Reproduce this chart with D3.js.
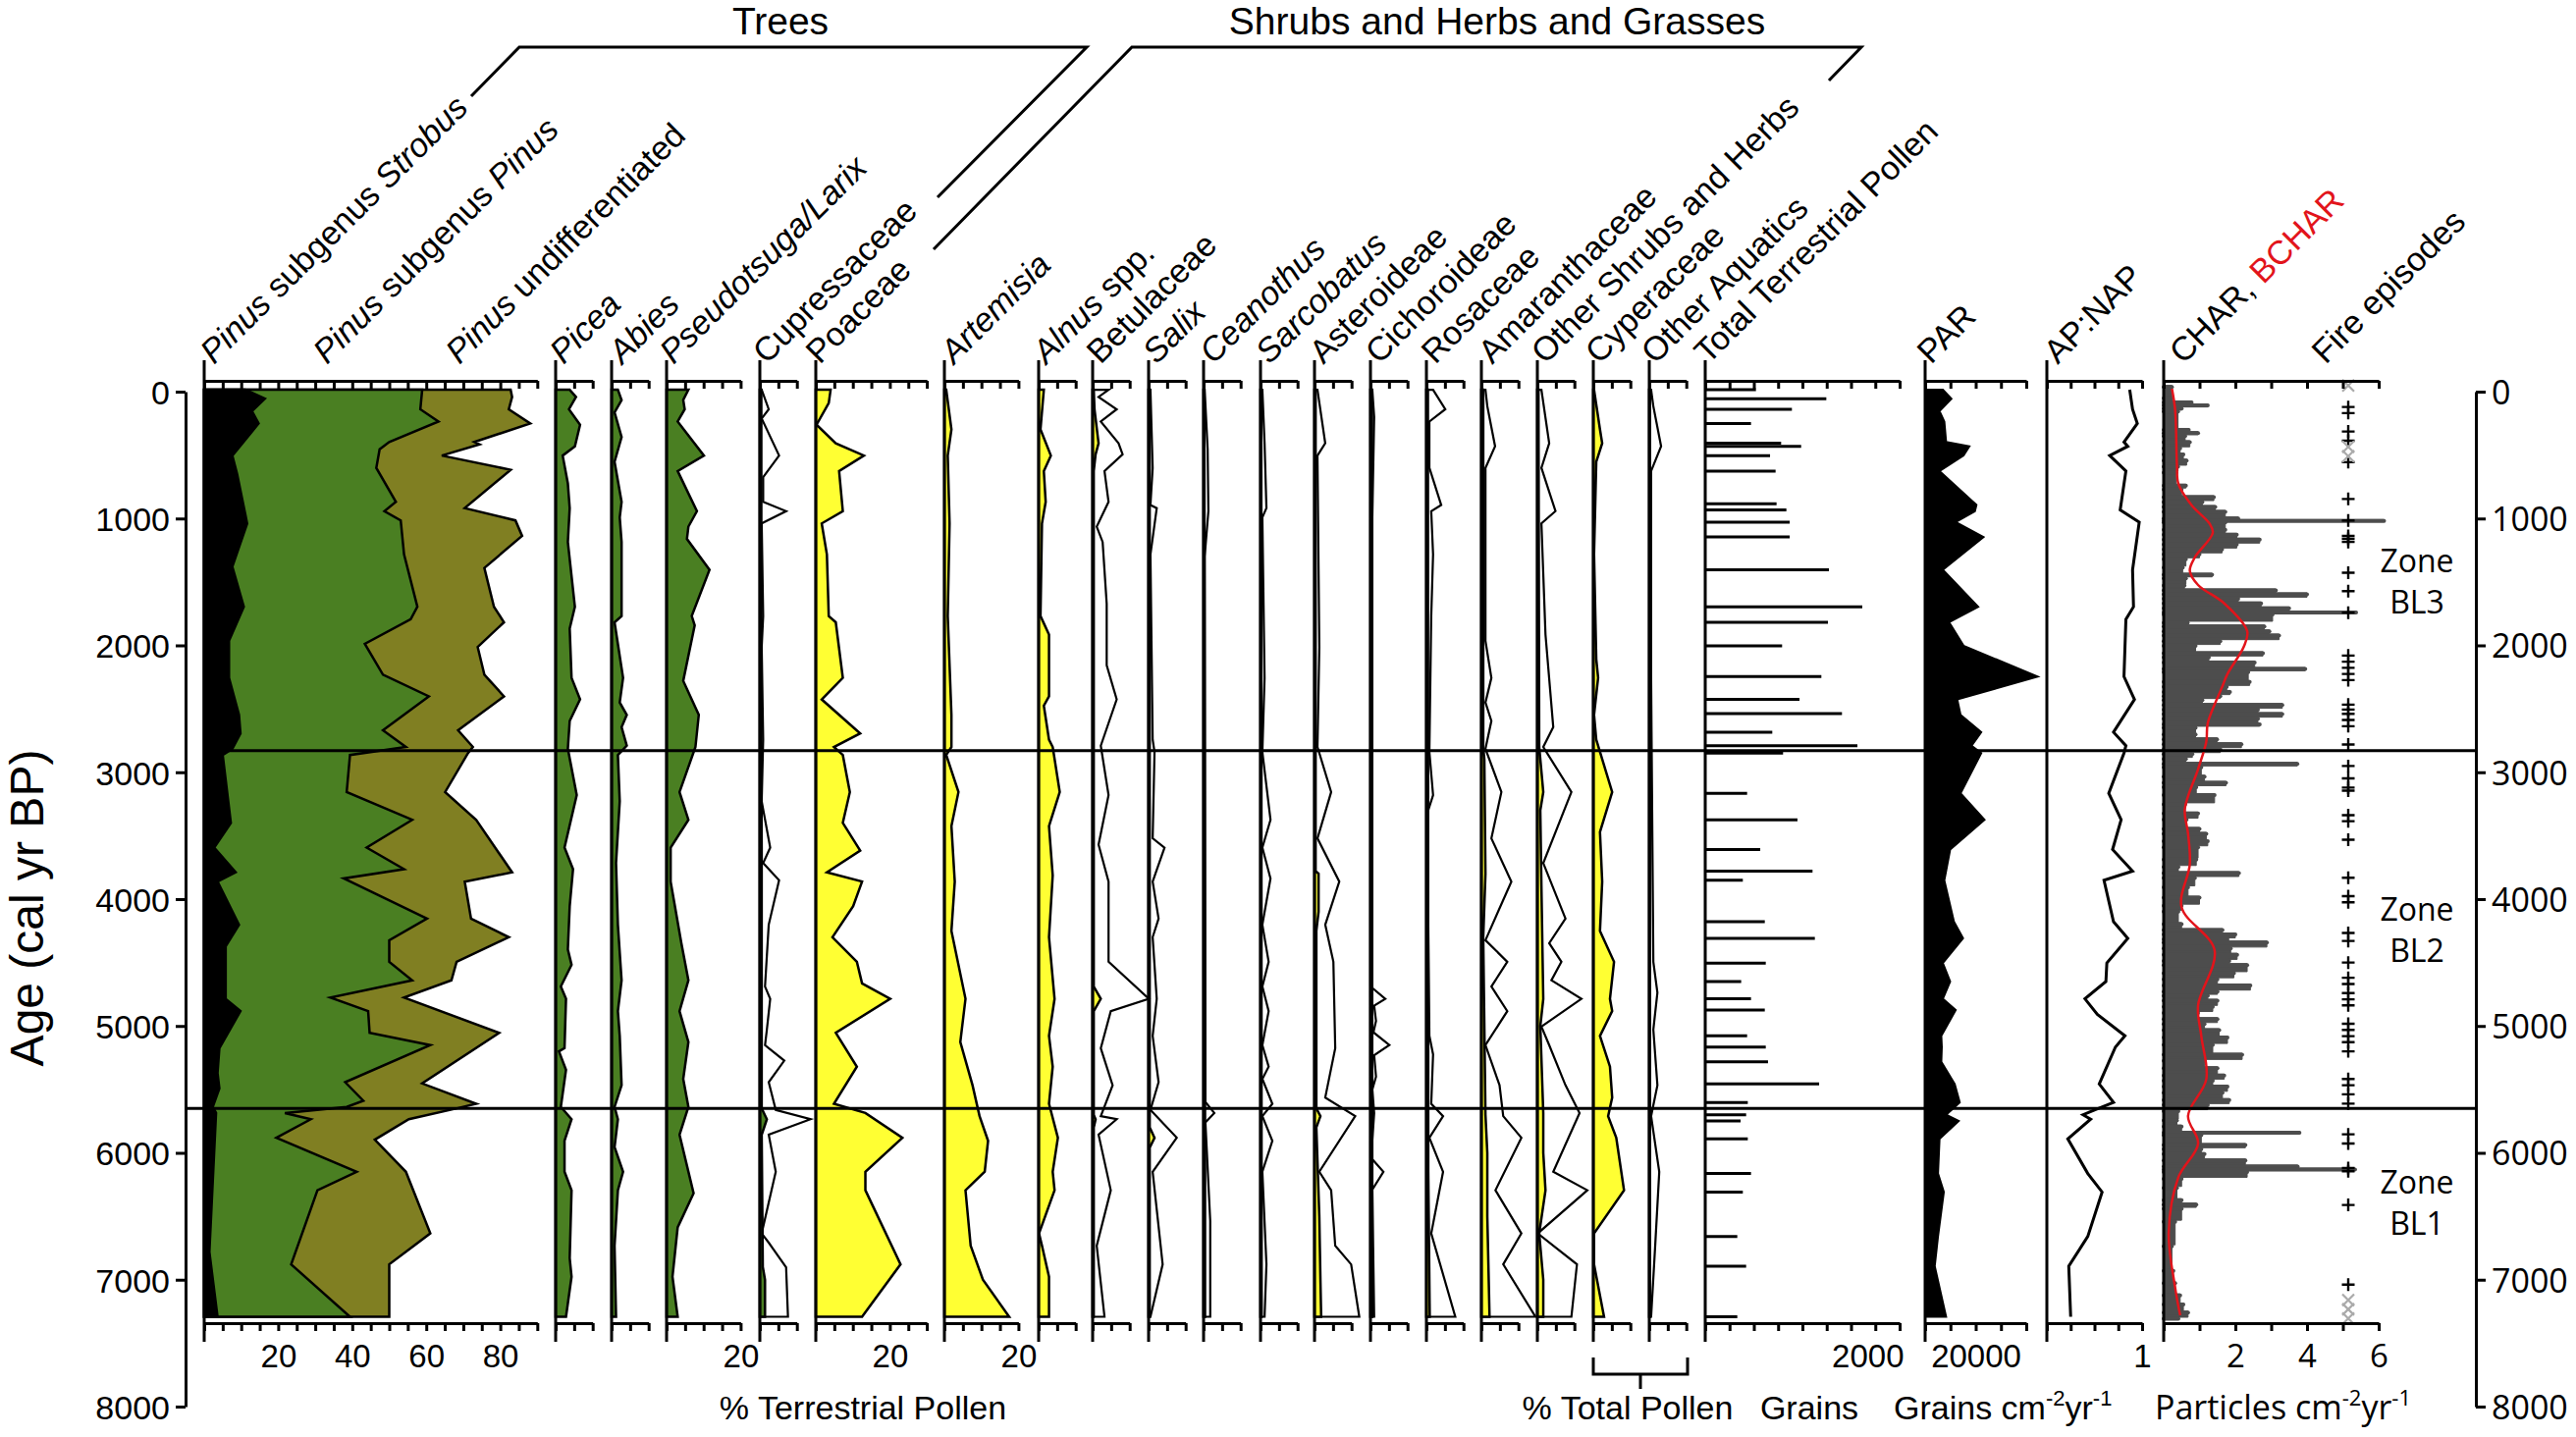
<!DOCTYPE html>
<html lang="en">
<head>
<meta charset="UTF-8">
<title>Pollen and charcoal diagram</title>
<style>
  body { margin: 0; background: #fff; }
  svg text { font-family: "Liberation Sans", Arial, sans-serif; fill: #000; }
  svg text.alt { font-family: "Open Sans", "Noto Sans", sans-serif; }
</style>
</head>
<body>
<svg id="chart" width="2624" height="1464"></svg>
<script src="https://d3js.org/d3.v7.min.js"></script>
<script>
// ---- data: [age cal yr BP, value] ----
const ageTicks = [0, 1000, 2000, 3000, 4000, 5000, 6000, 7000, 8000];
const zoneBounds = [2830, 5650];
const zoneNames = ["BL3", "BL2", "BL1"];
const zoneLabelAges = [1420, 4170, 6320];

// Pinus curves are cumulative edges (Strobus, + subgenus Pinus, + undifferentiated)
const strobus = [[-15,11.1],[56,16.4],[154,12.9],[251,14.7],[504,7.6],[650,8.9],[966,11.1],[1039,11.6],[1380,7.6],[1696,10.7],[1964,6.7],[2256,6.7],[2548,9.4],[2694,9.8],[2815,7.6],[2864,5.0],[3399,7.2],[3594,2.7],[3789,8.5],[3862,3.6],[4202,9.4],[4373,5.8],[4786,5.8],[4883,9.8],[5175,4.1],[5370,3.6],[5492,4.1],[5638,2.3],[5686,3.2],[6781,1.4],[7292,3.6]];
const strobusPinusCum = [[-15,58.9],[139,58.4],[236,63.3],[397,50.0],[455,47.4],[601,46.5],[869,51.8],[942,48.7],[1015,53.1],[1283,54.0],[1696,57.6],[1794,55.8],[1988,43.4],[2231,48.3],[2402,60.7],[2669,48.3],[2801,54.5],[2864,39.4],[3156,38.5],[3375,56.2],[3594,43.9],[3764,54.0],[3837,37.7],[4154,60.2],[4324,50.0],[4494,50.0],[4640,56.2],[4776,34.1],[4883,44.3],[5054,44.7],[5151,61.1],[5443,38.1],[5589,43.0],[5638,38.5],[5686,21.8],[5735,28.8],[5881,19.5],[6149,41.2],[6295,30.6],[6879,23.5],[7292,39.4]];
const pinusTotal = [[-15,82.8],[42,83.2],[139,82.3],[251,88.1],[397,73.0],[416,74.4],[504,64.2],[616,82.8],[918,70.4],[1015,84.1],[1137,85.9],[1390,75.7],[1696,78.3],[1818,81.0],[2013,73.9],[2231,75.7],[2402,81.0],[2669,68.6],[2801,72.6],[2849,71.3],[3156,65.1],[3375,73.5],[3789,83.2],[3862,70.4],[4154,72.1],[4300,82.3],[4494,68.2],[4640,66.8],[4776,54.0],[5054,79.7],[5453,58.9],[5613,73.5],[5647,68.6],[5735,55.3],[5896,46.1],[6149,54.5],[6635,61.1],[6879,50.0],[7292,50.0]];

const picea = [[-15,3.8],[42,5.5],[139,3.6],[261,6.6],[431,5.2],[504,1.9],[723,3.3],[918,3.8],[1185,3.3],[1696,5.2],[1867,3.8],[2256,4.3],[2426,6.6],[2596,3.8],[2815,3.3],[3180,5.7],[3594,2.4],[3764,4.7],[4056,3.8],[4397,3.3],[4518,4.3],[4689,1.4],[4786,2.8],[5175,2.4],[5200,0.9],[5346,2.8],[5638,1.4],[5735,4.3],[5905,2.4],[6149,2.4],[6295,4.3],[6830,3.8],[6976,4.3],[7292,2.8]];
const abies = [[-15,1.7],[66,2.7],[164,0.8],[358,2.7],[553,0.8],[869,2.7],[991,2.2],[1185,2.7],[1769,2.7],[1818,0.8],[2256,3.1],[2450,2.2],[2548,4.1],[2645,2.7],[2791,4.1],[2864,1.7],[3229,2.2],[3716,1.2],[4202,1.7],[4640,2.7],[4883,1.7],[5078,2.2],[5467,2.7],[5638,0.8],[5735,1.7],[5954,0.8],[6149,3.1],[6295,1.7],[6732,0.8],[7292,1.2]];
const pseudotsuga = [[-15,5.9],[66,4.5],[139,4.9],[236,3.0],[504,10.1],[626,3.0],[942,8.2],[1064,5.9],[1161,5.5],[1404,11.6],[1769,6.8],[1842,7.6],[2280,4.5],[2548,8.7],[2801,7.8],[3156,3.5],[3375,5.9],[3594,1.1],[3862,1.1],[4348,4.0],[4640,5.9],[4883,3.5],[5126,5.9],[5418,4.5],[5638,5.9],[5857,3.5],[6319,7.3],[6587,3.0],[6976,1.6],[7292,3.0]];
const cupressaceae = [[-15,0.4],[2800,0.4],[3594,0.5],[5650,0.5],[5735,1.9],[5857,0.5],[6900,0.8],[7000,1.4],[7292,1.4]];
const cupressaceaeExag = [[-15,0.5],[139,2.4],[212,0.5],[504,5.2],[674,0.9],[869,0.9],[942,7.1],[1039,0.5],[1769,0.9],[2013,0.5],[2743,0.9],[3229,0.5],[3594,2.8],[3716,0.9],[3852,5.2],[4202,2.4],[4689,1.4],[4786,2.8],[5029,1.9],[5151,1.4],[5273,6.6],[5443,2.4],[5662,4.3],[5735,13.7],[5857,2.4],[6149,4.3],[6635,0.5],[6708,2.4],[6903,7.1],[7292,7.6]];
const poaceae = [[-15,4.0],[90,3.5],[261,0.2],[407,5.4],[504,13.0],[626,6.3],[942,7.3],[1039,1.6],[1283,3.0],[1769,3.5],[1818,5.4],[2256,7.3],[2426,1.6],[2694,12.0],[2801,4.9],[2864,7.3],[3156,9.2],[3399,7.3],[3618,12.0],[3789,3.0],[3862,12.5],[4056,10.1],[4300,4.5],[4494,11.1],[4664,12.5],[4786,20.1],[5054,5.4],[5321,11.1],[5613,4.9],[5686,13.4],[5881,23.4],[6149,13.4],[6295,13.4],[6879,22.9],[7292,12.5]];
const artemisia = [[-15,0.5],[298,1.9],[504,0.9],[1039,1.4],[1769,0.9],[2548,1.9],[2801,1.9],[2864,0.5],[3156,3.8],[3424,1.9],[3862,2.8],[4251,1.9],[4786,5.7],[5126,4.3],[5467,7.6],[5711,9.5],[5905,11.8],[6149,10.9],[6295,5.7],[6732,7.1],[7000,10.4],[7292,17.5]];
const alnus = [[-15,1.4],[298,0.5],[504,3.3],[626,1.4],[869,1.9],[1039,0.9],[1769,0.5],[1915,2.8],[2402,2.8],[2475,1.4],[2743,2.8],[2801,3.8],[3156,5.7],[3424,2.8],[3813,3.8],[4300,2.8],[4786,4.3],[5078,2.8],[5321,3.8],[5613,2.8],[5881,5.2],[6149,3.8],[6295,4.3],[6635,0.1],[6732,0.9],[6976,2.8],[7292,2.8]];
const betulaceae = [[-15,0.3],[139,0.5],[407,1.6],[494,0.8],[626,0.3],[4689,0.3],[4786,2.2],[4883,0.3],[5700,0.3],[5735,0.8],[5800,0.3],[7292,0.3]];
const betulaceaeExag = [[-15,4.3],[42,1.6],[139,6.5],[236,2.2],[407,7.0],[494,8.1],[626,3.2],[869,4.3],[1064,1.1],[1185,2.7],[1672,3.8],[2158,3.8],[2426,6.5],[2791,2.2],[3180,4.3],[3570,1.6],[3862,4.3],[4494,4.3],[4786,15.2],[4883,4.9],[5175,2.2],[5467,5.4],[5711,2.2],[5735,6.5],[5857,1.6],[6295,4.9],[6732,1.1],[7292,3.2]];
const salix = [[-15,0.3],[5800,0.3],[5881,1.6],[5960,0.3],[7292,0.3]];
const salixExag = [[-15,0.5],[601,1.1],[894,0.5],[918,2.2],[1283,0.5],[2743,1.1],[2840,1.6],[3521,1.1],[3594,4.3],[3862,1.1],[4154,2.7],[4300,1.1],[4786,2.2],[5078,1.1],[5443,2.7],[5662,0.5],[5881,7.6],[6149,1.1],[6879,3.8],[7292,0.5]];
const ceanothus = [[-15,0.2],[5686,0.4],[7292,0.4]];
const ceanothusExag = [[-15,0.3],[455,1.1],[942,1.3],[1300,0.3],[5600,0.5],[5686,2.9],[5760,0.5],[6537,1.8],[7292,1.8]];
const sarcobatus = [[-15,0.2],[7292,0.3]];
const sarcobatusExag = [[-15,0.5],[407,1.1],[918,1.6],[991,0.5],[2256,1.1],[2840,0.5],[3375,2.7],[3594,0.5],[3837,2.7],[4202,0.5],[4494,2.2],[4689,0.5],[4883,2.2],[5151,0.5],[5321,2.2],[5418,0.5],[5613,3.2],[5711,0.5],[5905,3.2],[6149,0.5],[6879,1.6],[7292,1.1]];
const asteroideae = [[-15,0.3],[3780,0.3],[3800,1.1],[4100,1.1],[4250,0.5],[5650,0.5],[5711,1.6],[5800,0.5],[6500,1.3],[7000,1.6],[7292,1.8]];
const asteroideaeExag = [[-15,0.8],[407,2.9],[504,0.8],[2013,1.3],[2801,0.8],[3156,4.5],[3521,0.8],[3862,6.7],[4202,2.9],[4494,5.1],[5175,5.6],[5564,2.9],[5711,11.0],[6149,1.3],[6295,4.5],[6732,5.6],[6879,9.9],[7292,12.1]];
const cichoroideae = [[-15,0.4],[7292,0.5]];
const cichoroideaeExag = [[-15,0.5],[200,1.0],[1000,0.5],[4700,0.5],[4786,4.0],[4840,1.0],[4960,1.5],[5050,0.8],[5151,5.1],[5230,1.0],[5400,1.5],[5500,0.5],[5686,1.0],[5900,0.5],[6050,0.5],[6149,3.5],[6290,0.5],[7292,1.0]];
const rosaceae = [[-15,0.4],[6149,0.5],[7292,0.9]];
const rosaceaeExag = [[-15,1.8],[139,5.1],[236,0.8],[601,0.8],[894,4.0],[942,1.3],[1283,1.8],[1769,1.3],[2840,0.8],[3180,1.8],[3326,0.2],[5078,0.8],[5224,1.8],[5613,1.3],[5711,4.5],[5881,0.8],[6149,4.5],[6635,1.3],[7292,7.8]];
const amaranthaceae = [[-15,0.5],[2800,0.5],[2900,0.8],[3800,1.1],[4300,0.5],[5700,1.1],[6000,1.6],[6500,1.6],[7292,2.2]];
const amaranthaceaeExag = [[-15,1.1],[115,1.6],[431,3.7],[601,1.1],[1039,1.1],[1964,1.1],[2256,2.7],[2450,1.1],[2596,2.7],[2815,1.1],[3156,5.4],[3521,2.7],[3862,8.1],[4324,1.1],[4494,7.0],[4689,2.7],[4883,7.0],[5151,1.1],[5467,4.9],[5711,5.9],[5881,10.8],[6295,3.8],[6635,10.8],[6879,5.9],[7292,14.6]];
const otherShrubs = [[-15,0.3],[2800,0.5],[3156,1.6],[3300,0.8],[3900,1.1],[4786,1.6],[5000,0.8],[5686,1.6],[6000,1.6],[6295,2.2],[6635,0.5],[7000,1.6],[7292,1.6]];
const otherShrubsExag = [[-15,1.1],[407,3.2],[601,1.1],[942,4.9],[1039,1.1],[1915,2.2],[2645,4.3],[2801,1.6],[3156,9.2],[3716,1.6],[4154,7.6],[4348,3.2],[4494,6.5],[4640,3.8],[4786,11.9],[5005,1.1],[5151,3.2],[5467,7.6],[5686,11.4],[6149,4.3],[6295,13.5],[6635,0.1],[6879,10.7],[7292,9.2]];
const cyperaceae = [[-15,0.2],[298,1.8],[407,2.4],[553,0.8],[1283,0.2],[2110,0.8],[2256,1.3],[2548,0.2],[2743,0.8],[3156,5.1],[3472,1.8],[3862,2.4],[4251,1.8],[4494,5.6],[4786,4.5],[4883,5.1],[5078,1.8],[5321,4.5],[5564,5.1],[5711,4.0],[5881,6.2],[6295,8.3],[6635,0.2],[6879,0.2],[7292,2.9]];
const otherAquatics = [[-15,0.2],[7292,0.2]];
const otherAquaticsExag = [[-15,0.5],[115,1.1],[431,3.2],[626,0.5],[2256,0.5],[4494,1.1],[4737,2.2],[5029,1.1],[5467,2.2],[5711,0.5],[6149,2.7],[6732,1.6],[7292,0.5]];

const totalPollen = [[-15,522],[56,1246],[139,892],[251,471],[407,781],[431,987],[504,667],[626,724],[884,734],[932,835],[1029,869],[1146,869],[1404,1273],[1696,1616],[1818,1263],[2003,791],[2246,1195],[2426,970],[2538,1407],[2684,690],[2791,1566],[2849,801],[3166,431],[3375,949],[3609,566],[3779,1104],[3852,387],[4178,613],[4309,1128],[4504,623],[4650,370],[4786,471],[4874,613],[5078,431],[5166,623],[5282,646],[5457,1172],[5603,438],[5700,421],[5749,364],[5890,438],[6163,471],[6309,387],[6659,330],[6893,421],[7292,330]];
const parData = [[-15,7000],[56,10400],[154,5700],[236,7600],[397,8300],[431,17500],[504,15200],[626,5700],[893,20300],[942,19700],[1029,12100],[1146,23100],[1404,7000],[1696,21000],[1818,9500],[2003,15200],[2246,44500],[2426,12700],[2548,14000],[2684,22200],[2791,18400],[2849,22200],[3166,14000],[3375,23500],[3609,9900],[3852,7600],[4178,11400],[4309,15000],[4504,7000],[4650,9900],[4786,7000],[4874,12100],[5078,6400],[5166,6600],[5282,6400],[5457,11700],[5603,13700],[5700,8300],[5749,13300],[5890,5700],[6163,5100],[6309,7400],[6659,5100],[6893,3800],[7292,8300]];
const apNap = [[-15,0.87],[139,0.9],[251,0.95],[397,0.81],[431,0.85],[504,0.66],[626,0.83],[932,0.77],[1029,0.97],[1404,0.9],[1696,0.91],[1794,0.83],[2246,0.81],[2426,0.92],[2684,0.7],[2791,0.83],[2849,0.81],[3166,0.65],[3375,0.78],[3609,0.69],[3779,0.9],[3852,0.6],[4178,0.7],[4309,0.85],[4504,0.63],[4650,0.62],[4786,0.4],[4908,0.53],[5078,0.82],[5166,0.72],[5457,0.55],[5603,0.7],[5662,0.5],[5700,0.38],[5735,0.46],[5890,0.22],[6163,0.43],[6309,0.58],[6659,0.43],[6893,0.23],[7292,0.25]];

const charData = [[-48,0.23],[40,0.23],[73,0.78],[97,1.23],[121,0.5],[145,0.4],[290,0.7],[315,0.96],[339,0.6],[387,0.73],[435,0.46],[484,0.55],[532,0.64],[580,0.4],[627,0.35],[730,0.62],[760,0.5],[820,1.4],[859,1.08],[898,1.44],[936,1.72],[988,2.08],[1008,6.15],[1020,1.72],[1078,1.72],[1117,2.04],[1155,2.68],[1194,2.04],[1233,1.63],[1271,1.0],[1310,0.62],[1375,0.53],[1431,1.35],[1460,0.62],[1516,0.58],[1555,3.13],[1586,4.0],[1620,2.08],[1658,2.72],[1697,3.5],[1730,5.37],[1745,3.04],[1810,0.67],[1839,2.81],[1878,2.95],[1911,3.22],[1955,1.58],[1993,0.89],[2050,2.77],[2084,1.26],[2123,2.54],[2174,3.95],[2200,2.36],[2277,2.4],[2316,1.76],[2355,1.85],[2388,1.58],[2419,1.08],[2458,3.31],[2496,2.63],[2530,3.31],[2566,2.63],[2612,2.68],[2638,0.89],[2690,0.89],[2729,1.49],[2767,2.17],[2806,1.58],[2845,0.8],[2883,0.62],[2922,3.73],[2950,1.05],[3024,1.14],[3072,1.74],[3106,0.91],[3169,1.42],[3241,0.6],[3314,0.96],[3362,0.64],[3435,1.0],[3474,1.19],[3532,1.23],[3580,0.96],[3677,0.91],[3735,0.41],[3783,2.1],[3822,0.87],[3895,0.68],[3977,1.0],[4040,0.5],[4088,0.41],[4185,0.5],[4233,1.64],[4267,2.0],[4306,1.78],[4330,2.88],[4378,1.87],[4427,2.05],[4475,1.83],[4509,2.33],[4572,1.96],[4620,1.5],[4669,2.42],[4717,1.5],[4751,1.23],[4790,1.5],[4838,1.37],[4886,0.96],[4935,1.5],[4973,1.14],[5022,1.55],[5080,1.78],[5138,1.37],[5215,2.19],[5264,1.14],[5322,1.5],[5380,1.69],[5419,1.37],[5467,1.78],[5515,1.64],[5573,1.83],[5612,1.23],[5660,0.41],[5733,0.37],[5781,0.5],[5830,3.79],[5850,1.05],[5927,2.28],[5960,1.05],[5999,1.14],[6048,2.28],[6096,3.74],[6120,5.34],[6140,2.33],[6193,0.5],[6265,0.37],[6362,0.5],[6396,0.91],[6430,0.5],[6531,0.32],[6725,0.23],[6918,0.27],[7015,0.32],[7112,0.46],[7184,0.55],[7247,0.68],[7296,0.41]];
const bcharData = [[-24,0.23],[145,0.32],[580,0.37],[726,0.41],[895,0.78],[1040,1.28],[1113,1.37],[1306,0.87],[1413,0.73],[1524,0.96],[1669,1.69],[1887,2.33],[2008,2.24],[2225,1.78],[2322,1.64],[2612,1.23],[2758,1.19],[2975,0.96],[3290,0.59],[3483,0.68],[3725,0.73],[4064,0.5],[4403,1.42],[4838,0.96],[5080,1.05],[5419,1.19],[5709,0.68],[5927,0.96],[6193,0.41],[6628,0.14],[7063,0.32],[7281,0.46]];
const fireAges = [121,169,314,387,556,846,1016,1137,1161,1185,1427,1572,1742,2080,2129,2177,2225,2274,2467,2506,2540,2588,2637,2782,2951,3048,3121,3145,3338,3386,3532,3832,3977,4025,4267,4330,4500,4620,4669,4741,4790,4838,4983,5031,5080,5128,5200,5418,5467,5539,5612,5854,5927,6120,6145,6411,7039];
const fireRejected = [-48,435,508,7160,7233,7305];

// ---- layout ----
const GREEN = "#4a7f22", OLIVE = "#807f22", YELLOW = "#ffff33", CHARGREY = "#4d4d4d", RED = "#e2141b";
const PX = 3.77;                       // px per percent
const RULER_TOP = 388, RULER_BOT = 1348, LINE_TOP = 367, LINE_BOT = 1367;
const LABEL_Y = 372;

const svg = d3.select("#chart");
const y = d3.scaleLinear().domain([0, 8000]).range([399, 1433]);

const pctPanels = [
  {x0: 208, max: 90, labels: [20, 40, 60, 80], layers: [[pinusTotal, OLIVE], [strobusPinusCum, GREEN], [strobus, "#000"]]},
  {x0: 566, max: 10, layers: [[picea, GREEN]]},
  {x0: 623, max: 10, layers: [[abies, GREEN]]},
  {x0: 679, max: 20, labels: [20], layers: [[pseudotsuga, GREEN]]},
  {x0: 774, max: 10, exag: cupressaceaeExag, layers: [[cupressaceae, GREEN]]},
  {x0: 831, max: 30, labels: [20], layers: [[poaceae, YELLOW]]},
  {x0: 962, max: 20, labels: [20], layers: [[artemisia, YELLOW]]},
  {x0: 1058, max: 10, layers: [[alnus, YELLOW]]},
  {x0: 1113, max: 10, exag: betulaceaeExag, layers: [[betulaceae, YELLOW]]},
  {x0: 1170, max: 10, exag: salixExag, layers: [[salix, YELLOW]]},
  {x0: 1226, max: 10, exag: ceanothusExag, layers: [[ceanothus, YELLOW]]},
  {x0: 1284, max: 10, exag: sarcobatusExag, layers: [[sarcobatus, YELLOW]]},
  {x0: 1339, max: 10, exag: asteroideaeExag, layers: [[asteroideae, YELLOW]]},
  {x0: 1396, max: 10, exag: cichoroideaeExag, layers: [[cichoroideae, YELLOW]]},
  {x0: 1453, max: 10, exag: rosaceaeExag, layers: [[rosaceae, YELLOW]]},
  {x0: 1509, max: 10, exag: amaranthaceaeExag, layers: [[amaranthaceae, YELLOW]]},
  {x0: 1566, max: 10, exag: otherShrubsExag, layers: [[otherShrubs, YELLOW]]},
  {x0: 1623, max: 10, layers: [[cyperaceae, YELLOW]]},
  {x0: 1680, max: 10, exag: otherAquaticsExag, layers: [[otherAquatics, YELLOW]]}
];

const headerLabels = [
  {x: 218, parts: [["Pinus", 1], [" subgenus ", 0], ["Strobus", 1]]},
  {x: 333, parts: [["Pinus", 1], [" subgenus ", 0], ["Pinus", 1]]},
  {x: 468, parts: [["Pinus", 1], [" undifferentiated", 0]]},
  {x: 574, parts: [["Picea", 1]]},
  {x: 634, parts: [["Abies", 1]]},
  {x: 686, parts: [["Pseudotsuga/Larix", 1]]},
  {x: 781, parts: [["Cupressaceae", 0]]},
  {x: 835, parts: [["Poaceae", 0]]},
  {x: 972, parts: [["Artemisia", 1]]},
  {x: 1066, parts: [["Alnus", 1], [" spp.", 0]]},
  {x: 1121, parts: [["Betulaceae", 0]]},
  {x: 1178, parts: [["Salix", 1]]},
  {x: 1236, parts: [["Ceanothus", 1]]},
  {x: 1293, parts: [["Sarcobatus", 1]]},
  {x: 1348, parts: [["Asteroideae", 0]]},
  {x: 1405, parts: [["Cichoroideae", 0]]},
  {x: 1462, parts: [["Rosaceae", 0]]},
  {x: 1520, parts: [["Amaranthaceae", 0]]},
  {x: 1574, parts: [["Other Shrubs and Herbs", 0]]},
  {x: 1629, parts: [["Cyperaceae", 0]]},
  {x: 1686, parts: [["Other Aquatics", 0]]},
  {x: 1740, parts: [["Total Terrestrial Pollen", 0]]},
  {x: 1967, parts: [["PAR", 0]]},
  {x: 2096, parts: [["AP:NAP", 0]]},
  {x: 2224, parts: [["CHAR, ", 0], ["BCHAR", 0, RED]]},
  {x: 2369, parts: [["Fire episodes", 0]]}
];

const gData = svg.append("g");
const gAxes = svg.append("g");

function styleAxis(g, size, cls) {
  g.select(".domain").attr("stroke-width", 3);
  g.selectAll(".tick line").attr("stroke-width", 3);
  g.selectAll(".tick text").attr("font-size", size).attr("font-family", null)
    .attr("class", cls || null).style("fill", "#000");
}

function rulers(x, ticks, labels, fmt, cls) {
  const top = gAxes.append("g").attr("transform", `translate(0,${RULER_TOP})`)
    .call(d3.axisBottom(x).tickValues(ticks).tickSize(8).tickSizeOuter(0).tickFormat(""));
  styleAxis(top, 33);
  const bot = gAxes.append("g").attr("transform", `translate(0,${RULER_BOT})`)
    .call(d3.axisBottom(x).tickValues(ticks).tickSize(8).tickSizeOuter(0).tickPadding(14)
      .tickFormat(d => labels.includes(d) ? (fmt ? fmt(d) : d) : ""));
  styleAxis(bot, 33, cls);
  const x0 = x.range()[0];
  gAxes.append("line").attr("x1", x0).attr("x2", x0).attr("y1", LINE_TOP).attr("y2", LINE_BOT)
    .attr("stroke", "#000").attr("stroke-width", 3);
  return bot;
}

// percentage panels
pctPanels.forEach(p => {
  const x = d3.scaleLinear().domain([0, p.max]).range([p.x0, p.x0 + p.max * PX]);
  const area = d3.area().y(d => y(d[0])).x0(x(0)).x1(d => x(d[1]));
  if (p.exag) {
    gData.append("path").datum(p.exag).attr("d", area).attr("fill", "none")
      .attr("stroke", "#000").attr("stroke-width", 2.2);
  }
  p.layers.forEach(([data, col]) => {
    gData.append("path").datum(data).attr("d", area).attr("fill", col)
      .attr("stroke", "#000").attr("stroke-width", 2.5);
  });
  rulers(x, d3.range(0, p.max + 0.1, 5), p.labels || []);
});

// total terrestrial pollen (grains)
const xTot = d3.scaleLinear().domain([0, 2000]).range([1737, 1935]);
gData.selectAll(".tot").data(totalPollen).join("line")
  .attr("x1", xTot(0)).attr("x2", d => xTot(d[1]))
  .attr("y1", d => y(d[0])).attr("y2", d => y(d[0]))
  .attr("stroke", "#000").attr("stroke-width", 3);
const totAxis = rulers(xTot, d3.range(0, 2001, 250), [2000]);
totAxis.selectAll(".tick text").attr("text-anchor", "end").attr("dx", 4);

// PAR
const xPar = d3.scaleLinear().domain([0, 40000]).range([1961, 2064]);
gData.append("path").datum(parData)
  .attr("d", d3.area().y(d => y(d[0])).x0(xPar(0)).x1(d => xPar(d[1])))
  .attr("fill", "#000").attr("stroke", "#000").attr("stroke-width", 2);
rulers(xPar, d3.range(0, 40001, 10000), [20000]);

// AP:NAP
const xAp = d3.scaleLinear().domain([0, 1]).range([2085, 2182]);
gData.append("path").datum(apNap)
  .attr("d", d3.line().y(d => y(d[0])).x(d => xAp(d[1])))
  .attr("fill", "none").attr("stroke", "#000").attr("stroke-width", 3);
rulers(xAp, [0, 0.25, 0.5, 0.75, 1], [1]);

// CHAR / BCHAR
const xChar = d3.scaleLinear().domain([0, 6]).range([2204, 2423]);
gData.append("line").attr("x1", xChar(0.1)).attr("x2", xChar(0.1))
  .attr("y1", y(-48)).attr("y2", y(7296)).attr("stroke", "#cfcfcf").attr("stroke-width", 4);
gData.append("path").datum(charData)
  .attr("d", d3.area().curve(d3.curveStepBefore).y(d => y(d[0])).x0(xChar(0)).x1(d => xChar(d[1])))
  .attr("fill", CHARGREY).attr("stroke", CHARGREY).attr("stroke-width", 1);
gData.selectAll(".charbar").data(charData).join("line")
  .attr("x1", xChar(0)).attr("x2", d => xChar(d[1]))
  .attr("y1", d => y(d[0]) + 1.5).attr("y2", d => y(d[0]) + 1.5)
  .attr("stroke", CHARGREY).attr("stroke-width", 4).attr("stroke-linecap", "round");
gData.append("path").datum(bcharData)
  .attr("d", d3.line().curve(d3.curveCatmullRom).y(d => y(d[0])).x(d => xChar(d[1])))
  .attr("fill", "none").attr("stroke", RED).attr("stroke-width", 2.5);
rulers(xChar, [0, 1, 2, 3, 4, 5, 6], [2, 4, 6], null, "alt");

// fire episodes
const FIRE_X = 2392;
gData.selectAll(".fire").data(fireAges).join("path")
  .attr("d", d => `M${FIRE_X - 6.5},${y(d)}H${FIRE_X + 6.5}M${FIRE_X},${y(d) - 6.5}V${y(d) + 6.5}`)
  .attr("stroke", "#000").attr("stroke-width", 2.4);
gData.selectAll(".rej").data(fireRejected).join("path")
  .attr("d", d => `M${FIRE_X - 6},${y(d) - 6}L${FIRE_X + 6},${y(d) + 6}M${FIRE_X - 6},${y(d) + 6}L${FIRE_X + 6},${y(d) - 6}`)
  .attr("stroke", "#aaaaaa").attr("stroke-width", 2.2);

// zone boundaries
zoneBounds.forEach((a, i) => {
  gAxes.append("line").attr("x1", i === 0 ? 208 : 189).attr("x2", 2522)
    .attr("y1", y(a)).attr("y2", y(a)).attr("stroke", "#000").attr("stroke-width", 3);
});
zoneNames.forEach((n, i) => {
  const t = gAxes.append("text").attr("class", "alt").attr("font-size", 32).attr("text-anchor", "middle");
  t.append("tspan").attr("x", 2462).attr("y", y(zoneLabelAges[i])).text("Zone");
  t.append("tspan").attr("x", 2462).attr("dy", 42).text(n);
});

// age axes
const fmtAge = d3.format("d");
const leftAxis = gAxes.append("g").attr("transform", "translate(189,0)")
  .call(d3.axisLeft(y).tickValues(ageTicks).tickFormat(fmtAge).tickSize(10).tickSizeOuter(0).tickPadding(6));
styleAxis(leftAxis, 34);
leftAxis.selectAll(".tick text").attr("dy", "0.36em");
const rightAxis = gAxes.append("g").attr("transform", "translate(2522,0)")
  .call(d3.axisRight(y).tickValues(ageTicks).tickFormat(fmtAge).tickSize(10).tickSizeOuter(0).tickPadding(6));
styleAxis(rightAxis, 34, "alt");
rightAxis.selectAll(".tick text").attr("dy", "0.36em");

svg.append("text").attr("transform", "translate(44,925) rotate(-90)")
  .attr("text-anchor", "middle").attr("font-size", 48).text("Age (cal yr BP)");

// rotated taxon labels
headerLabels.forEach(l => {
  const t = svg.append("text").attr("font-size", 34)
    .attr("transform", `translate(${l.x},${LABEL_Y}) rotate(-45)`);
  l.parts.forEach(([s, it, col]) => {
    t.append("tspan").text(s).attr("font-style", it ? "italic" : null).style("fill", col || "#000");
  });
});

// group headers and brackets
svg.append("text").attr("x", 795).attr("y", 35).attr("text-anchor", "middle").attr("font-size", 39).text("Trees");
svg.append("text").attr("x", 1525).attr("y", 35).attr("text-anchor", "middle").attr("font-size", 39).text("Shrubs and Herbs and Grasses");
const bracket = d3.line();
svg.append("path").attr("d", bracket([[480, 98], [529, 48], [1107, 48], [955, 201]]))
  .attr("fill", "none").attr("stroke", "#000").attr("stroke-width", 3);
svg.append("path").attr("d", bracket([[951, 254], [1153, 48], [1896, 48], [1863, 82]]))
  .attr("fill", "none").attr("stroke", "#000").attr("stroke-width", 3);

// bottom axis titles
const BT = 1446;
svg.append("text").attr("x", 879).attr("y", BT).attr("text-anchor", "middle").attr("font-size", 34).text("% Terrestrial Pollen");
svg.append("text").attr("x", 1658).attr("y", BT).attr("text-anchor", "middle").attr("font-size", 34).text("% Total Pollen");
svg.append("text").attr("x", 1843).attr("y", BT).attr("text-anchor", "middle").attr("font-size", 34).text("Grains");
svg.append("path").attr("d", "M1623,1383V1400H1719V1383M1671,1400V1415")
  .attr("fill", "none").attr("stroke", "#000").attr("stroke-width", 3);

function unitLabel(x, cls, word) {
  const t = svg.append("text").attr("x", x).attr("y", BT).attr("font-size", 34).attr("class", cls || null);
  t.append("tspan").text(word + " cm");
  t.append("tspan").attr("font-size", 22).attr("dy", -14).text("-2");
  t.append("tspan").attr("dy", 14).text("yr");
  t.append("tspan").attr("font-size", 22).attr("dy", -14).text("-1");
}
unitLabel(1929, null, "Grains");
unitLabel(2195, "alt", "Particles");
</script>
</body>
</html>
